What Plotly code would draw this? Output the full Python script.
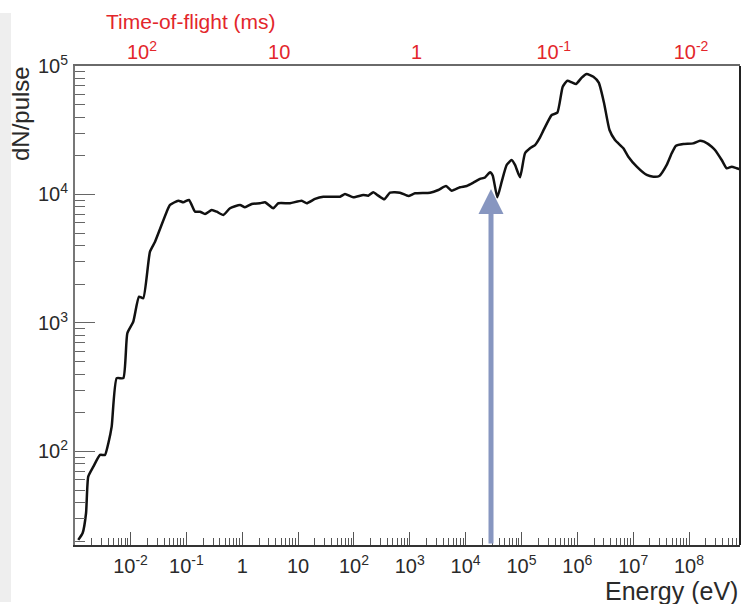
import math
import plotly.graph_objects as go

# ---------------- data ----------------
energy_eV = [1.16e-3, 1.39e-3, 1.60e-3, 1.75e-3, 2.16e-3, 2.85e-3, 3.49e-3, 4.01e-3, 4.60e-3, 5.66e-3,
             7.43e-3, 8.77e-3, 1.12e-2, 1.42e-2, 1.69e-2, 2.23e-2, 2.75e-2, 4.45e-2, 5.10e-2, 7.18e-2,
             8.81e-2, 0.1114, 0.143, 0.1755, 0.216, 0.2845, 0.349, 0.459, 0.605, 0.914,
             1.12, 1.48, 2.08, 2.56, 3.60, 4.43, 7.18, 11.6, 14.3, 20.1,
             28.3, 56.4, 69.3, 97.5, 147, 181, 222, 273, 350, 443,
             669, 942, 1242, 2307, 3244, 4457, 5637, 7940, 10470, 13750,
             18120, 22250, 27350, 30550, 36960, 44290, 54450, 66840, 76700, 94300,
             1.158e5, 1.423e5, 1.75e5, 2.15e5, 2.46e5, 3.48e5, 4.39e5, 5.48e5, 6.63e5, 8.04e5,
             9.48e5, 1.20e6, 1.47e6, 1.94e6, 2.42e6, 3.01e6, 3.77e6, 4.73e6, 6.67e6, 8.19e6,
             1.16e7, 1.75e7, 2.30e7, 2.94e7, 3.99e7, 4.90e7, 5.85e7, 7.91e7, 1.19e8, 1.57e8,
             1.86e8, 2.55e8, 2.92e8, 3.85e8, 4.73e8, 5.81e8, 7.14e8, 8.18e8]

dn_per_pulse = [20.5, 23.2, 33.2, 63.7, 76.2, 94, 94, 116, 156, 372,
                372, 832, 1023, 1603, 1557, 3589, 4293, 7350, 8285, 8950,
                8695, 9065, 7350, 7350, 7050, 7575, 7350, 6925, 7810, 8285,
                7950, 8435, 8545, 8695, 7810, 8545, 8545, 8950, 8545, 9230,
                9610, 9610, 10090, 9510, 9910, 9790, 10400, 9790, 9180, 10330,
                10330, 9730, 10210, 10330, 10840, 11650, 10710, 11380, 11650, 12360,
                13210, 13560, 14920, 14060, 9510, 12580, 16980, 18550, 16980, 13610,
                20930, 22900, 24270, 27860, 31380, 41570, 43330, 69000, 76870, 74500,
                72400, 81150, 86650, 82400, 74130, 51550, 31780, 26550, 22900, 19690,
                16460, 14190, 13760, 13940, 16980, 20930, 23990, 24730, 25000, 26240,
                25760, 23550, 22200, 18550, 16000, 16460, 16000, 15710]

# bottom energy axis ticks
energy_tickvals = [1e-2, 1e-1, 1, 10, 1e2, 1e3, 1e4, 1e5, 1e6, 1e7, 1e8]
energy_ticktext = ["10<sup>-2</sup>", "10<sup>-1</sup>", "1", "10", "10<sup>2</sup>", "10<sup>3</sup>",
                   "10<sup>4</sup>", "10<sup>5</sup>", "10<sup>6</sup>", "10<sup>7</sup>", "10<sup>8</sup>"]
# left axis ticks
count_tickvals = [1e2, 1e3, 1e4, 1e5]
count_ticktext = ["10<sup>2</sup>", "10<sup>3</sup>", "10<sup>4</sup>", "10<sup>5</sup>"]
# top time-of-flight axis ticks (ms)
tof_tickvals = [1e2, 10, 1, 1e-1, 1e-2]
tof_ticktext = ["10<sup>2</sup>", "10", "1", "10<sup>-1</sup>", "10<sup>-2</sup>"]

# arrow marker energy and tip level
arrow_energy = 2.85e4
arrow_tip = 1.104e4

FONT = "Liberation Sans, Arial, Helvetica, sans-serif"
RED = "#e3262b"
TXT = "#2a2a2a"

x_minor = [k * 10.0 ** n for n in range(-3, 9) for k in range(2, 10)]
y_minor = [k * 10.0 ** n for n in range(1, 5) for k in range(2, 10)]

fig = go.Figure()
fig.add_trace(go.Scatter(
    x=energy_eV, y=dn_per_pulse, mode="lines",
    line=dict(color="#111111", width=2.5, shape="spline", smoothing=0.5),
    showlegend=False, hoverinfo="skip"))
# invisible trace to anchor top TOF axis
fig.add_trace(go.Scatter(
    x=[tof_tickvals[0], tof_tickvals[-1]], y=[1e3, 1e3], xaxis="x2", yaxis="y",
    mode="markers", marker=dict(opacity=0), showlegend=False, hoverinfo="skip"))

fig.update_layout(
    width=744, height=604,
    margin=dict(l=75, r=4, t=66, b=59),
    paper_bgcolor="white", plot_bgcolor="white",
    font=dict(family=FONT, size=20, color=TXT),
    xaxis=dict(
        type="log", range=[-2.994, 8.913],
        tickmode="array", tickvals=energy_tickvals, ticktext=energy_ticktext,
        ticks="inside", ticklen=13, tickwidth=1.3, tickcolor="#555",
        minor=dict(tickmode="array", tickvals=x_minor, ticks="inside", ticklen=7,
                   tickwidth=1.2, tickcolor="#555"),
        showline=True, linecolor="#333", linewidth=2,
        showgrid=False, zeroline=False, ticklabelstandoff=2,
        tickfont=dict(size=20, color=TXT),
    ),
    xaxis2=dict(
        type="log", range=[2.488, -2.357], overlaying="x", side="top", anchor="y",
        tickmode="array", tickvals=tof_tickvals, ticktext=tof_ticktext,
        ticks="", showline=True, linecolor="#6a6a6a", linewidth=2,
        showgrid=False, zeroline=False, ticklabelstandoff=-3,
        tickfont=dict(size=20, color=RED),
    ),
    yaxis=dict(
        type="log", range=[1.272, 5.0],
        tickmode="array", tickvals=count_tickvals, ticktext=count_ticktext,
        ticks="inside", ticklen=20, tickwidth=1.3, tickcolor="#666",
        minor=dict(tickmode="array", tickvals=y_minor, ticks="inside", ticklen=10,
                   tickwidth=1.2, tickcolor="#666"),
        showline=True, linecolor="#777", linewidth=2,
        showgrid=False, zeroline=False, ticklabelstandoff=1,
        tickfont=dict(size=20, color=TXT),
    ),
    shapes=[
        dict(type="line", xref="paper", yref="paper", x0=1, x1=1, y0=0, y1=1,
             line=dict(color="#222", width=2)),
        dict(type="rect", xref="paper", yref="paper", x0=-0.1128, x1=-0.0962,
             y0=-0.119, y1=1.1106, line=dict(width=0), fillcolor="#eeeeee", layer="below"),
    ],
    annotations=[
        dict(x=math.log10(arrow_energy), y=math.log10(arrow_tip), xref="x", yref="y",
             ax=math.log10(arrow_energy), ay=1.272, axref="x", ayref="y",
             text="", showarrow=True, arrowhead=2, arrowsize=1, arrowwidth=5,
             arrowcolor="#8796c0", standoff=0),
        dict(text="Energy (eV)", xref="paper", yref="paper", x=1.0, y=-0.095,
             xanchor="right", yanchor="middle", showarrow=False,
             font=dict(size=25, color=TXT, family=FONT)),
        dict(text="dN/pulse", xref="paper", yref="paper", x=-0.081, y=0.90,
             xanchor="center", yanchor="middle", textangle=-90, showarrow=False,
             font=dict(size=24, color=TXT, family=FONT)),
        dict(text="Time-of-flight (ms)", xref="paper", yref="paper", x=0.1745, y=1.092,
             xanchor="center", yanchor="middle", showarrow=False,
             font=dict(size=21, color=RED, family=FONT)),
    ],
)

fig.write_html("out.html")
